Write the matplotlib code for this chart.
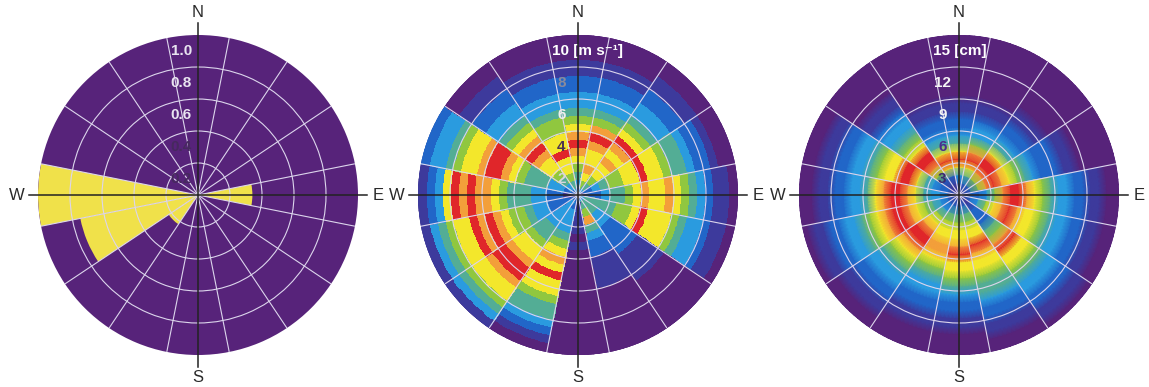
import numpy as np
import matplotlib.pyplot as plt
from matplotlib.colors import LinearSegmentedColormap
from matplotlib.lines import Line2D

# 16 direction sectors, clockwise from north
sectors = ['N', 'NNE', 'NE', 'ENE', 'E', 'ESE', 'SE', 'SSE',
           'S', 'SSW', 'SW', 'WSW', 'W', 'WNW', 'NW', 'NNW']

# left rose: radial extent of the yellow wedges (0..1)
left_yellow = [0, 0, 0, 0, 0.34, 0, 0, 0, 0, 0, 0.22, 0.75, 1.0, 0, 0, 0]

# middle rose: frequency level (0 = lowest .. 8 = highest) per 0.5 m/s bin
speed_edges = [0.5 * i for i in range(21)]
speed_levels = [
    [2, 3, 4, 5, 6, 7, 8, 7, 6, 5, 4, 3, 3, 2, 2, 1, 1, 0, 0, 0],  # N
    [3, 5, 6, 7, 6, 6, 7, 8, 7, 5, 4, 3, 3, 2, 2, 1, 1, 0, 0, 0],  # NNE
    [3, 4, 5, 6, 6, 7, 6, 7, 8, 6, 5, 4, 3, 3, 2, 2, 1, 1, 0, 0],  # NE
    [2, 2, 3, 4, 5, 5, 6, 6, 8, 6, 6, 5, 4, 4, 3, 2, 2, 1, 0, 0],  # ENE
    [1, 2, 2, 3, 4, 4, 5, 6, 7, 6, 6, 7, 6, 5, 4, 3, 2, 1, 1, 0],  # E
    [3, 4, 4, 4, 4, 5, 5, 6, 8, 6, 6, 6, 5, 4, 3, 3, 2, 1, 1, 0],  # ESE
    [3, 4, 4, 3, 3, 2, 2, 2, 2, 1, 1, 1, 1, 0, 0, 0, 0, 0, 0, 0],  # SE
    [3, 4, 5, 7, 4, 3, 2, 2, 1, 1, 1, 1, 0, 0, 0, 0, 0, 0, 0, 0],  # SSE
    [2, 1, 1, 1, 1, 0, 1, 0, 0, 0, 0, 0, 0, 0, 0, 0, 0, 0, 0, 0],  # S
    [2, 2, 3, 3, 3, 4, 5, 6, 7, 6, 8, 6, 6, 5, 4, 4, 3, 2, 1, 0],  # SSW
    [2, 3, 3, 3, 3, 4, 4, 5, 6, 6, 7, 8, 8, 7, 6, 6, 5, 4, 3, 1],  # SW
    [2, 2, 2, 2, 3, 3, 4, 5, 5, 6, 7, 8, 7, 8, 6, 6, 5, 4, 3, 1],  # WSW
    [1, 1, 2, 2, 3, 3, 4, 4, 4, 5, 6, 7, 7, 8, 7, 8, 6, 3, 2, 1],  # W
    [2, 2, 3, 3, 4, 4, 4, 5, 6, 7, 8, 8, 7, 6, 6, 5, 4, 3, 3, 2],  # WNW
    [2, 3, 4, 5, 6, 6, 7, 8, 7, 6, 5, 4, 3, 3, 2, 2, 1, 1, 0, 0],  # NW
    [3, 4, 5, 6, 6, 8, 6, 6, 5, 5, 4, 3, 3, 2, 2, 1, 1, 0, 0, 0],  # NNW
]

# right rose: frequency level per 0.75 cm bin
height_edges = [0.75 * i for i in range(21)]
height_levels = [
    [1, 2, 3, 6, 8, 6, 4, 3, 2, 2, 1, 1, 0, 0, 0, 0, 0, 0, 0, 0],  # N
    [1, 2, 4, 6, 8, 7, 5, 3, 3, 2, 1, 1, 0, 0, 0, 0, 0, 0, 0, 0],  # NNE
    [1, 2, 5, 7, 8, 8, 6, 4, 3, 2, 2, 1, 1, 0, 0, 0, 0, 0, 0, 0],  # NE
    [1, 2, 5, 7, 8, 7, 6, 5, 4, 3, 2, 2, 2, 1, 1, 0, 0, 0, 0, 0],  # ENE
    [1, 2, 2, 3, 5, 7, 8, 8, 7, 6, 5, 4, 3, 3, 2, 2, 1, 1, 0, 0],  # E
    [1, 2, 3, 5, 6, 7, 8, 7, 6, 6, 5, 4, 3, 3, 2, 2, 1, 1, 0, 0],  # ESE
    [1, 1, 2, 2, 2, 4, 5, 7, 8, 6, 6, 5, 4, 3, 3, 2, 2, 1, 1, 0],  # SE
    [1, 2, 4, 5, 6, 6, 8, 7, 6, 6, 5, 4, 4, 3, 2, 2, 1, 1, 0, 0],  # SSE
    [1, 2, 4, 5, 6, 6, 7, 8, 6, 6, 5, 4, 3, 2, 2, 1, 1, 0, 0, 0],  # S
    [1, 2, 4, 5, 6, 6, 7, 7, 6, 5, 4, 3, 3, 2, 2, 1, 1, 0, 0, 0],  # SSW
    [1, 2, 3, 5, 6, 7, 8, 8, 7, 6, 5, 4, 3, 3, 2, 2, 1, 1, 0, 0],  # SW
    [1, 2, 3, 4, 5, 6, 7, 8, 8, 7, 6, 5, 4, 3, 3, 2, 2, 1, 1, 0],  # WSW
    [1, 2, 3, 3, 4, 6, 7, 8, 8, 7, 6, 4, 3, 3, 2, 2, 1, 1, 0, 0],  # W
    [1, 2, 2, 3, 4, 6, 8, 8, 6, 6, 5, 4, 3, 3, 2, 2, 1, 1, 0, 0],  # WNW
    [1, 1, 2, 5, 7, 8, 8, 6, 5, 4, 3, 3, 2, 1, 1, 0, 0, 0, 0, 0],  # NW
    [1, 1, 2, 6, 8, 6, 4, 3, 2, 2, 1, 1, 0, 0, 0, 0, 0, 0, 0, 0],  # NNW
]

PURPLE = '#57237a'
YELLOW = '#f0e14a'
cmap = LinearSegmentedColormap.from_list('rose', [
    PURPLE, '#3d3a9c', '#2166c8', '#2a9be0', '#52ad96',
    '#8ec63f', '#f3e92b', '#f4a23a', '#e0262a'])

W_PX, H_PX = 1149, 387
fig = plt.figure(figsize=(W_PX / 100, H_PX / 100), dpi=100)
centers = [198, 578, 959]
CY, RAD = 195, 160


def make_polar(cx, rmax, rings):
    ax = fig.add_axes([(cx - RAD) / W_PX, (H_PX - CY - RAD) / H_PX,
                       2 * RAD / W_PX, 2 * RAD / H_PX], projection='polar')
    ax.set_theta_zero_location('N')
    ax.set_theta_direction(-1)
    ax.set_facecolor(PURPLE)
    ax.set_ylim(0, rmax)
    ax.set_xticks(np.deg2rad(np.arange(11.25, 360, 22.5)))
    ax.set_xticklabels([])
    ax.set_yticks(rings)
    ax.set_yticklabels([])
    ax.grid(True, color='#dcd5ec', lw=0.8)
    ax.set_axisbelow(False)
    ax.spines['polar'].set_visible(False)
    return ax


def draw_field(ax, levels, edges, smooth):
    edges = np.asarray(edges, float)
    for k, vals in enumerate(levels):
        th = np.deg2rad(np.linspace(22.5 * k - 11.25, 22.5 * k + 11.25, 13))
        vals = np.asarray(vals, float)
        if smooth:
            mids = (edges[:-1] + edges[1:]) / 2
            r = np.concatenate([[edges[0]], mids, [edges[-1]]])
            v = np.concatenate([[vals[0]], vals, [vals[-1]]])
            T, R = np.meshgrid(th, r)
            C = np.repeat(v[:, None], len(th), axis=1)
            ax.pcolormesh(T, R, C, cmap=cmap, vmin=0, vmax=8, shading='gouraud')
        else:
            T, R = np.meshgrid(th, edges)
            C = np.repeat(vals[:, None], len(th) - 1, axis=1)
            ax.pcolormesh(T, R, C, cmap=cmap, vmin=0, vmax=8, shading='flat',
                          edgecolors='face', linewidth=0.3)


def ring_labels(ax, positions, texts, colors, unit_first=True):
    for i, (r, t, c) in enumerate(zip(positions, texts, colors)):
        if unit_first and i == len(texts) - 1 and ' ' in t:
            ax.annotate(t, xy=(0, r), xytext=(-19, 0), textcoords='offset points',
                        ha='left', va='center', fontsize=11, fontweight='bold',
                        color=c, family=['Liberation Sans', 'DejaVu Sans'], zorder=6)
        else:
            ax.annotate(t, xy=(0, r), xytext=(-12, 0), textcoords='offset points',
                        ha='center', va='center', fontsize=11, fontweight='bold',
                        color=c, family=['Liberation Sans', 'DejaVu Sans'], zorder=6)


# left rose
ax1 = make_polar(centers[0], 1.0, [0.2, 0.4, 0.6, 0.8])
theta_c = np.deg2rad(np.arange(16) * 22.5)
ax1.bar(theta_c, left_yellow, width=np.deg2rad(22.5), bottom=0,
        color=YELLOW, edgecolor='none', zorder=1)
ring_labels(ax1, [0.1, 0.3, 0.5, 0.7, 0.9], ['0.2', '0.4', '0.6', '0.8', '1.0'],
            ['#46295e', '#46295e', '#e8e4f0', '#e8e4f0', '#e8e4f0'])

# middle rose (wind speed)
ax2 = make_polar(centers[1], 10, [2, 4, 6, 8])
draw_field(ax2, speed_levels, speed_edges, smooth=False)
ring_labels(ax2, [1, 3, 5, 7, 9], ['2', '4', '6', '8', '10 [m s⁻¹]'],
            ['#d6d6de', '#4a3452', '#eeeeee', '#8a8a9c', '#ffffff'])

# right rose (wave height)
ax3 = make_polar(centers[2], 15, [3, 6, 9, 12])
draw_field(ax3, height_levels, height_edges, smooth=True)
ring_labels(ax3, [1.5, 4.5, 7.5, 10.5, 13.5], ['3', '6', '9', '12', '15 [cm]'],
            ['#3c2a70', '#4b2c8c', '#f4f4f4', '#f4f4f4', '#ffffff'])

# compass cross and letters
for cx in centers:
    fy = (H_PX - CY) / H_PX
    fig.add_artist(Line2D([(cx - 169) / W_PX, (cx + 169) / W_PX], [fy, fy],
                          transform=fig.transFigure, color='#222222', lw=1.1, zorder=5))
    fig.add_artist(Line2D([cx / W_PX, cx / W_PX],
                          [(H_PX - CY - 172) / H_PX, (H_PX - CY + 172) / H_PX],
                          transform=fig.transFigure, color='#222222', lw=1.1, zorder=5))
    kw = dict(ha='center', va='center', fontsize=12, color='#2a2a2a',
              family='Liberation Sans')
    fig.text(cx / W_PX, (H_PX - 12.5) / H_PX, 'N', **kw)
    fig.text(cx / W_PX, (H_PX - 377.5) / H_PX, 'S', **kw)
    fig.text((cx - 181) / W_PX, fy, 'W', **kw)
    fig.text((cx + 180) / W_PX, fy, 'E', **kw)

fig.savefig('out.png', dpi=100)
